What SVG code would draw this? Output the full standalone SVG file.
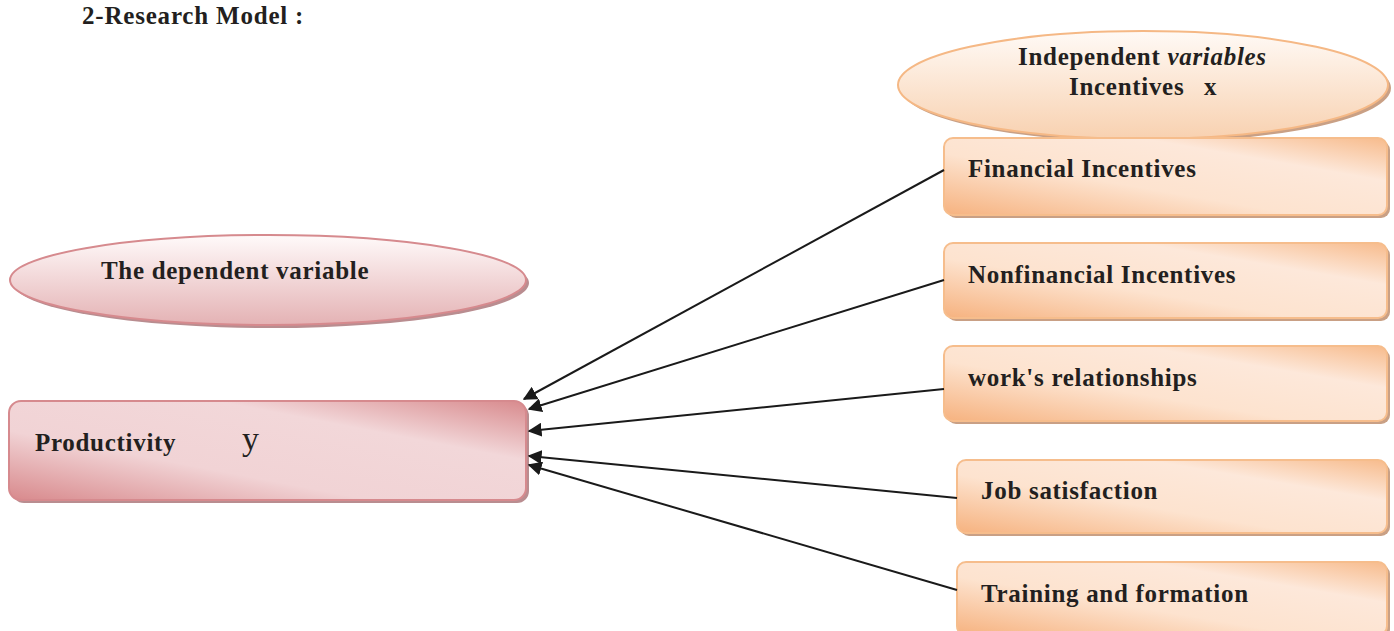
<svg xmlns="http://www.w3.org/2000/svg" width="1394" height="631" viewBox="0 0 1394 631">
<defs>
<linearGradient id="gOr" x1="0" y1="1" x2="1" y2="0">
<stop offset="0" stop-color="#f6b27f"/>
<stop offset="0.4" stop-color="#fde3cf"/>
<stop offset="0.72" stop-color="#fde8da"/>
<stop offset="1" stop-color="#f7bb8c"/>
</linearGradient>
<linearGradient id="gPk" x1="0" y1="1" x2="1" y2="0">
<stop offset="0" stop-color="#d8898c"/>
<stop offset="0.35" stop-color="#f1d3d5"/>
<stop offset="0.7" stop-color="#f2d7d9"/>
<stop offset="1" stop-color="#d88a8d"/>
</linearGradient>
<linearGradient id="gOrE" x1="0" y1="0" x2="0" y2="1">
<stop offset="0" stop-color="#fffaf6"/>
<stop offset="1" stop-color="#f8d1b0"/>
</linearGradient>
<linearGradient id="gPkE" x1="0" y1="0" x2="0" y2="1">
<stop offset="0" stop-color="#fffafa"/>
<stop offset="1" stop-color="#e4b2b4"/>
</linearGradient>
<marker id="ah" viewBox="0 0 10 10" refX="9" refY="5" markerWidth="7" markerHeight="7" markerUnits="strokeWidth" orient="auto">
<path d="M0,0 L10,5 L0,10 z" fill="#1a1a1a"/>
</marker>
</defs>
<style>
.t{font-family:"Liberation Serif","Times New Roman",serif;font-weight:bold;font-size:25px;letter-spacing:0.7px;fill:#231f20}
.ob{fill:url(#gOr);stroke:#f6bd8c;stroke-width:2}
.os{fill:#c9a085}
.pb{fill:url(#gPk);stroke:#d68a8e;stroke-width:2}
.ps{fill:#b98d90}
.c{stroke:#1a1a1a;stroke-width:2;fill:none;marker-end:url(#ah)}
</style>
<text x="82" y="24" class="t" style="letter-spacing:0.8px">2-Research Model :</text>

<g id="indep">
<ellipse cx="1146" cy="88" rx="245" ry="54" class="os"/>
<ellipse cx="1143" cy="85" rx="245" ry="54" fill="url(#gOrE)" stroke="#f5b885" stroke-width="2"/>
<text x="1018" y="65" class="t">Independent <tspan font-style="italic">variables</tspan></text>
<text x="1069" y="95" class="t">Incentives</text>
<text x="1204" y="95" class="t">x</text>
</g>

<g id="dep">
<ellipse cx="271" cy="283" rx="258" ry="45" class="ps"/>
<ellipse cx="268" cy="280" rx="258" ry="45" fill="url(#gPkE)" stroke="#d68a8e" stroke-width="2"/>
<text x="101" y="279" class="t">The dependent variable</text>
</g>

<g id="prod">
<rect x="12" y="404" width="517" height="99" rx="12" class="ps"/>
<rect x="9" y="401" width="517" height="99" rx="12" class="pb"/>
<text x="35" y="451" class="t">Productivity</text>
<text x="242" y="450" style="font-family:'Liberation Serif','Times New Roman',serif;font-size:34px;fill:#231f20">y</text>
</g>

<g id="fin">
<rect x="947" y="141" width="443" height="77" rx="9" class="os"/>
<rect x="944" y="138" width="443" height="77" rx="9" class="ob"/>
<text x="968" y="177" class="t">Financial Incentives</text>
</g>
<g id="nonfin">
<rect x="947" y="246" width="443" height="75" rx="9" class="os"/>
<rect x="944" y="243" width="443" height="75" rx="9" class="ob"/>
<text x="968" y="283" class="t">Nonfinancial Incentives</text>
</g>
<g id="work">
<rect x="947" y="349" width="443" height="75" rx="9" class="os"/>
<rect x="944" y="346" width="443" height="75" rx="9" class="ob"/>
<text x="968" y="386" class="t">work's relationships</text>
</g>
<g id="job">
<rect x="960" y="463" width="430" height="73" rx="9" class="os"/>
<rect x="957" y="460" width="430" height="73" rx="9" class="ob"/>
<text x="981" y="499" class="t">Job satisfaction</text>
</g>
<g id="train">
<rect x="960" y="565" width="430" height="73" rx="9" class="os"/>
<rect x="957" y="562" width="430" height="73" rx="9" class="ob"/>
<text x="981" y="602" class="t">Training and formation</text>
</g>

<g id="connectors">
<line x1="944" y1="170" x2="524" y2="399" class="c"/>
<line x1="944" y1="280" x2="529" y2="409" class="c"/>
<line x1="944" y1="389" x2="529" y2="431" class="c"/>
<line x1="957" y1="498" x2="529" y2="456" class="c"/>
<line x1="957" y1="590" x2="529" y2="465" class="c"/>
</g>
</svg>
